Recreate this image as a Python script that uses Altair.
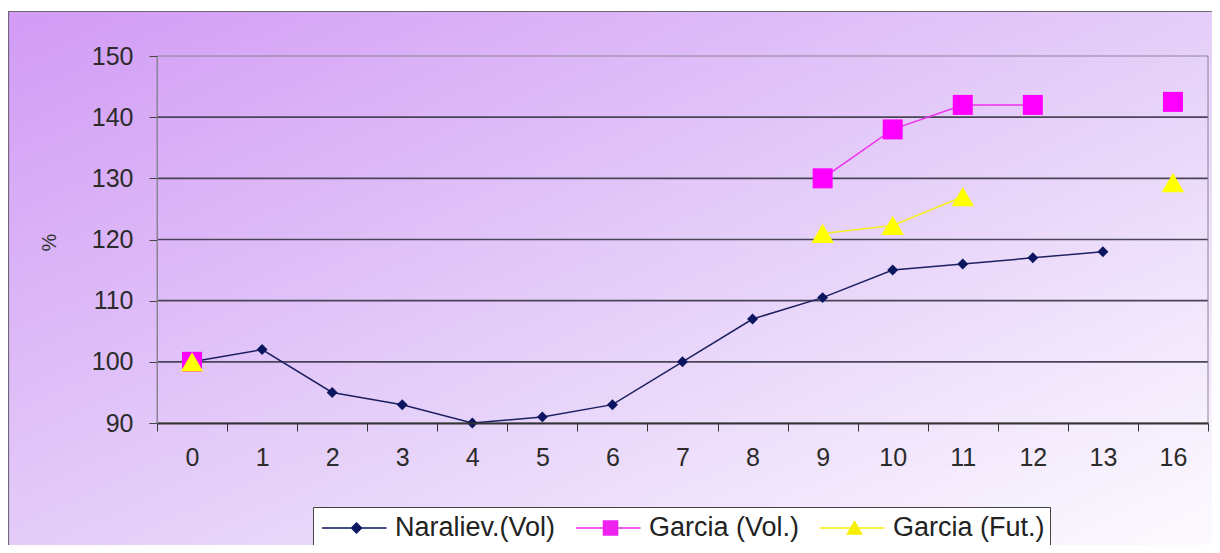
import altair as alt
import pandas as pd

# ---- data ----
x_cats = [0, 1, 2, 3, 4, 5, 6, 7, 8, 9, 10, 11, 12, 13, 16]
naraliev = [100, 102, 95, 93, 90, 91, 93, 100, 107, 110.5, 115, 116, 117, 118, None]
garcia_vol = [100, None, None, None, None, None, None, None, None, 130, 138, 142, 142, None, 142.5]
garcia_fut = [100, None, None, None, None, None, None, None, None, 121, 122.3, 127, None, None, 129.3]
series_names = ["Naraliev.(Vol)", "Garcia (Vol.)", "Garcia (Fut.)"]
y_ticks = [90, 100, 110, 120, 130, 140, 150]
grid_values = [100, 110, 120, 130, 140]

rows = []
for name, vals in zip(series_names, [naraliev, garcia_vol, garcia_fut]):
    for xv, yv in zip(x_cats, vals):
        rows.append({"x": xv, "value": yv, "series": name})
df = pd.DataFrame(rows)

FONT = "Liberation Sans"
marker_colors = ["#0c1660", "#ff00ff", "#ffff00"]
line_colors = ["#1c2060", "#f030f0", "#f4ee20"]
legend_colors = ["#0c1660", "#ee22ee", "#f6f000"]

W, H = 1051, 367

x_enc = alt.X(
    "x:O",
    sort=x_cats,
    scale=alt.Scale(type="band", paddingInner=0, paddingOuter=0),
    axis=alt.Axis(
        title=None, labelAngle=0, tickBand="extent", grid=False, zindex=1,
        tickSize=8, tickColor="#333", domainColor="#333", domainWidth=2,
        labelFont=FONT, labelFontSize=25, labelColor="#2b2b2b", labelPadding=14,
    ),
)
y_scale = alt.Scale(domain=[90, 150], nice=False, zero=False)
y_enc = alt.Y(
    "value:Q",
    scale=y_scale,
    axis=alt.Axis(
        values=y_ticks, title="%", grid=False, zindex=1,
        tickSize=8, tickColor="#444", domainColor="#8a8296", domainWidth=1,
        labelFont=FONT, labelFontSize=25, labelColor="#2b2b2b", labelPadding=16,
        titleFont=FONT, titleFontSize=20, titleFontWeight="normal", titleColor="#333",
        titleX=-108, titleY=186, titleAlign="center", titleBaseline="middle",
    ),
)

bg = alt.Chart(pd.DataFrame({"k": [0]})).mark_rect(
    fill=alt.Gradient(
        gradient="linear",
        stops=[
            alt.GradientStop(offset=0, color="#d29bf5"),
            alt.GradientStop(offset=0.5, color="#e5cff9"),
            alt.GradientStop(offset=1, color="#ffffff"),
        ],
        x1=0, y1=0, x2=1, y2=1,
    ),
    stroke="#6e6878", strokeWidth=1.2,
).encode(
    x=alt.value(-148.5), x2=alt.value(W + 40),
    y=alt.value(-44.5), y2=alt.value(H + 160),
)

grid = alt.Chart(pd.DataFrame({"value": grid_values})).mark_rule(
    color="#4a4458", strokeWidth=1.6
).encode(y=alt.Y("value:Q", scale=y_scale))

border = alt.Chart(pd.DataFrame({"k": [0]})).mark_rect(
    fill=None, fillOpacity=0, stroke="#8a8296", strokeWidth=1
).encode(x=alt.value(0), x2=alt.value(W), y=alt.value(0), y2=alt.value(H))

line_layers = []
for name, col in zip(series_names, line_colors):
    line_layers.append(
        alt.Chart(df).transform_filter(alt.datum.series == name)
        .mark_line(strokeWidth=1.5, color=col, invalid="break-paths-filter-domains")
        .encode(x=x_enc, y=y_enc)
    )

shapes = ["diamond", "square", "triangle-up"]
sizes = [120, 400, 500]
pts = []
for name, col, shp, sz in zip(series_names, marker_colors, shapes, sizes):
    pts.append(
        alt.Chart(df).transform_filter(alt.datum.series == name).transform_filter("isValid(datum.value)")
        .mark_point(filled=True, shape=shp, size=sz, color=col, opacity=1)
        .encode(x=x_enc, y=y_enc)
    )

legend_paths = [
    "M-0.8,0H3.5M1.5,-0.33L1.83,0L1.5,0.33L1.17,0Z",
    "M-0.8,0H3.5M1.03,-0.47H1.97V0.47H1.03Z",
    "M-0.8,0H3.5M1.5,-0.42L1.97,0.4H1.03Z",
]

def mk_legend():
    return alt.Legend(
        title=None, orient="none", legendX=156, legendY=451, direction="horizontal",
        fillColor="white", strokeColor="#444", padding=5, zindex=2,
        symbolSize=900, symbolStrokeWidth=1.5, symbolOpacity=1,
        labelOffset=45, columnPadding=16,
        labelFont=FONT, labelFontSize=27, labelColor="#222", labelLimit=400,
    )

legend_layer = alt.Chart(df).mark_point(filled=True, opacity=0, strokeWidth=1.5, size=1).encode(
    fill=alt.Fill("series:N", scale=alt.Scale(domain=series_names, range=legend_colors), legend=mk_legend()),
    stroke=alt.Stroke("series:N", scale=alt.Scale(domain=series_names, range=legend_colors), legend=mk_legend()),
    shape=alt.Shape("series:N", scale=alt.Scale(domain=series_names, range=legend_paths), legend=mk_legend()),
)

chart = alt.layer(bg, grid, border, *line_layers, *pts, legend_layer).properties(
    width=W, height=H,
    autosize=alt.AutoSizeParams(type="none"),
    padding={"left": 149, "top": 48, "right": 4, "bottom": 122},
    background="white",
).configure_view(stroke=None)

chart.save("out.html", embed_options={"renderer": "svg", "actions": False})
